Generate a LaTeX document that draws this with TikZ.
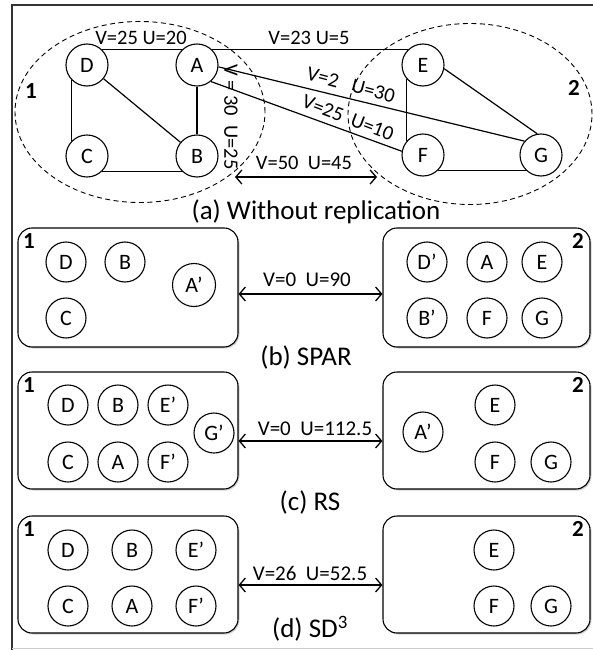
\documentclass[tikz,border=0pt]{standalone}
\usepackage{fontspec}
\setmainfont{Carlito}
\usetikzlibrary{arrows.meta,shadows,shapes.geometric}
\begin{document}
\begin{tikzpicture}[x=1pt,y=-1pt,
 vtx/.style={circle,draw,line width=1.1pt,minimum size=42pt,inner sep=0pt,font=\fontsize{22}{22}\selectfont},
 svtx/.style={vtx,minimum size=40pt},
 edge/.style={line width=1.2pt},
 part/.style={draw,line width=1.1pt,rounded corners=14pt,fill=white,
   drop shadow={shadow xshift=1.5pt,shadow yshift=-1.5pt,opacity=0.35,fill=gray}},
 region/.style={ellipse,draw,dashed,dash pattern=on 5pt off 3.5pt,line width=0.9pt,inner sep=0pt},
 lbl/.style={font=\fontsize{20.5}{20.5}\selectfont,inner sep=1pt},
 slbl/.style={font=\fontsize{21}{21}\selectfont,inner sep=1pt},
 captxt/.style={font=\fontsize{27}{27}\selectfont},
 num/.style={font=\bfseries\fontsize{23}{23}\selectfont},
 biarrow/.style={line width=1.3pt,{Straight Barb[length=6pt,width=14pt]}-{Straight Barb[length=6pt,width=14pt]}}
]
\useasboundingbox (0,0) rectangle (592,650);
% frame
\draw[line width=2.5pt,black!80] (12,660) -- (12,5) -- (600,5);
\draw[line width=1pt,black!20] (12,648) -- (600,648);

% ---------- (a) ----------
\node[region,minimum width=250pt,minimum height=181pt] (R1) at (140,112) {};
\node[region,minimum width=244pt,minimum height=181pt] (R2) at (470,114) {};
\node[num] (n1a) at (31,91) {1};
\node[num] (n2a) at (574,88) {2};

\node[vtx] (D) at (87,65) {D};
\node[vtx] (A) at (197,65) {A};
\node[vtx] (C) at (87,156) {C};
\node[vtx] (B) at (197,156) {B};
\node[vtx] (E) at (423,65) {E};
\node[vtx] (F) at (423,155) {F};
\node[vtx] (G) at (541,155) {G};

\draw[edge] (D.45) -- (A.135);
\draw[edge] (A.45) -- (E.135);
\draw[edge] (D.225) -- (C.135);
\draw[edge] (C.-45) -- (B.-135);
\draw[edge] (A) -- (B);
\draw[edge] (D) -- (B);
\draw[edge] (A.-5) -- (G.140);
\draw[edge] (A.-50) -- (F.170);
\draw[edge] (E.220) -- (F.140);
\draw[edge] (E.-10) -- (G.100);
\draw[edge] (F.-45) -- (G.-135);

\node[lbl] (l1) at (141,38) {V=25 U=20};
\node[lbl] (l2) at (309,38) {V=23 U=5};
\node[lbl,rotate=-90] (l3) at (231,117) {V = 30\ \ U=25};
\node[lbl,rotate=-15] (l4) at (351,85) {V=2\ \ \ U=30};
\node[lbl,rotate=-21] (l5) at (348,118) {V=25\ \ U=10};

\coordinate (a1) at (235,177);
\coordinate (a2) at (377,177);
\draw[biarrow] (a1) -- (a2);
\node[lbl] (l6) at (304,163) {V=50\ \ U=45};
\node[captxt] (capa) at (316,212) {(a) Without replication};

% ---------- (b) ----------
\node[part,minimum width=220pt,minimum height=119pt] (P1b) at (128,287.5) {};
\node[part,minimum width=207pt,minimum height=119pt] (P2b) at (486.5,287.5) {};
\node[num] (n1b) at (29,241) {1};
\node[num] (n2b) at (578,241) {2};
\node[svtx] (bD) at (66,262) {D};
\node[svtx] (bB) at (125,262) {B};
\node[svtx,minimum height=43pt] (bA1) at (194,285) {A’};
\node[svtx] (bC) at (66,318) {C};
\node[svtx] (bD1) at (427,262) {D’};
\node[svtx] (bA) at (487,262) {A};
\node[svtx] (bE) at (542,262) {E};
\node[svtx] (bB1) at (427,318) {B’};
\node[svtx] (bF) at (487,318) {F};
\node[svtx] (bG) at (542,318) {G};
\draw[biarrow] (P1b.east |- 0,294) -- (P2b.west |- 0,294);
\node[slbl] (lb) at (307,280) {V=0\ \ U=90};
\node[captxt] (capb) at (306,357) {(b) SPAR};

% ---------- (c) ----------
\node[part,minimum width=220pt,minimum height=117pt] (P1c) at (128,430.5) {};
\node[part,minimum width=207pt,minimum height=117pt] (P2c) at (486.5,430.5) {};
\node[num] (n1c) at (29,385) {1};
\node[num] (n2c) at (578,385) {2};
\node[svtx] (cD) at (68,405) {D};
\node[svtx] (cB) at (118,405) {B};
\node[svtx] (cE1) at (168,405) {E’};
\node[svtx] (cG1) at (214,433) {G’};
\node[svtx] (cC) at (68,462) {C};
\node[svtx] (cA) at (118,462) {A};
\node[svtx] (cF1) at (168,462) {F’};
\node[svtx] (cA1) at (423,432) {A’};
\node[svtx] (cE) at (495,405) {E};
\node[svtx] (cF) at (495,462) {F};
\node[svtx] (cG) at (551,462) {G};
\draw[biarrow] (P1c.east |- 0,441) -- (P2c.west |- 0,441);
\node[slbl] (lc) at (315,429) {V=0\ \ U=112.5};
\node[captxt] (capc) at (310,502) {(c) RS};

% ---------- (d) ----------
\node[part,minimum width=220pt,minimum height=117pt] (P1d) at (128,574.5) {};
\node[part,minimum width=207pt,minimum height=117pt] (P2d) at (486.5,574.5) {};
\node[num] (n1d) at (29,529) {1};
\node[num] (n2d) at (578,529) {2};
\node[svtx] (dD) at (68,550) {D};
\node[svtx] (dB) at (132,550) {B};
\node[svtx] (dE1) at (196,550) {E’};
\node[svtx] (dC) at (68,606) {C};
\node[svtx] (dA) at (132,606) {A};
\node[svtx] (dF1) at (196,606) {F’};
\node[svtx] (dE) at (494,550) {E};
\node[svtx] (dF) at (494,606) {F};
\node[svtx] (dG) at (551,606) {G};
\draw[biarrow] (P1d.east |- 0,585) -- (P2d.west |- 0,585);
\node[slbl] (ld) at (310,573) {V=26\ \ U=52.5};
\node[captxt] (capd) at (310,629) {(d) SD\textsuperscript{3}};
\end{tikzpicture}
\end{document}
